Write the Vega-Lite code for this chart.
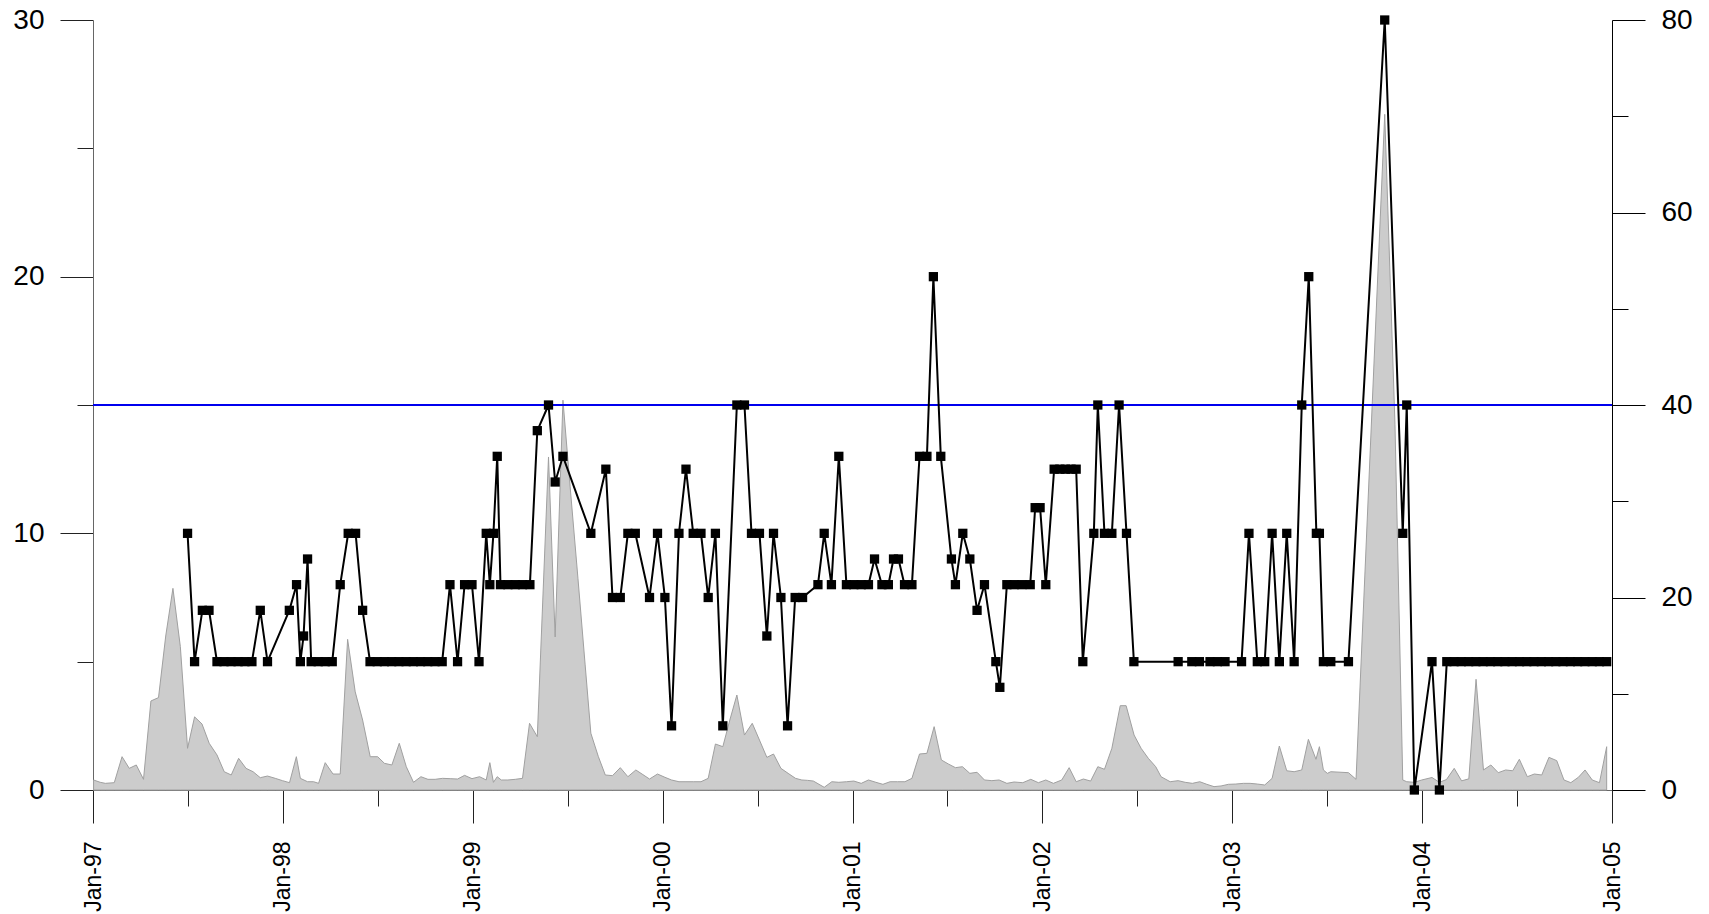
{
  "$schema": "https://vega.github.io/schema/vega-lite/v6.json",
  "width": 1519,
  "height": 770,
  "autosize": "none",
  "padding": {"left": 93, "top": 20, "right": 97, "bottom": 124},
  "config": {
    "view": {"stroke": null},
    "font": "Liberation Sans",
    "axis": {"grid": false, "labelColor": "#000000", "tickColor": "#000000", "labelFont": "Liberation Sans"}
  },
  "datasets": {
    "flow": [
      {"year": 1997.003, "value": 1.04}, {"year": 1997.038, "value": 0.8}, {"year": 1997.065, "value": 0.69}, {"year": 1997.112, "value": 0.76},
      {"year": 1997.153, "value": 3.46}, {"year": 1997.191, "value": 2.25}, {"year": 1997.228, "value": 2.6}, {"year": 1997.266, "value": 1.11},
      {"year": 1997.305, "value": 9.25}, {"year": 1997.345, "value": 9.6}, {"year": 1997.383, "value": 16}, {"year": 1997.421, "value": 20.95},
      {"year": 1997.46, "value": 14.9}, {"year": 1997.498, "value": 4.33}, {"year": 1997.535, "value": 7.6}, {"year": 1997.574, "value": 6.86},
      {"year": 1997.612, "value": 4.85}, {"year": 1997.653, "value": 3.64}, {"year": 1997.691, "value": 1.9}, {"year": 1997.728, "value": 1.56},
      {"year": 1997.767, "value": 3.29}, {"year": 1997.806, "value": 2.25}, {"year": 1997.843, "value": 1.9}, {"year": 1997.881, "value": 1.28},
      {"year": 1997.919, "value": 1.45}, {"year": 1997.96, "value": 1.21}, {"year": 1997.998, "value": 0.97}, {"year": 1998.035, "value": 0.76},
      {"year": 1998.071, "value": 3.46}, {"year": 1998.092, "value": 1.21}, {"year": 1998.13, "value": 0.86}, {"year": 1998.162, "value": 0.86},
      {"year": 1998.188, "value": 0.69}, {"year": 1998.223, "value": 2.84}, {"year": 1998.264, "value": 1.66}, {"year": 1998.302, "value": 1.66},
      {"year": 1998.341, "value": 15.65}, {"year": 1998.381, "value": 10.2}, {"year": 1998.42, "value": 7.27}, {"year": 1998.46, "value": 3.46},
      {"year": 1998.499, "value": 3.46}, {"year": 1998.535, "value": 2.77}, {"year": 1998.574, "value": 2.6}, {"year": 1998.613, "value": 4.85},
      {"year": 1998.65, "value": 2.42}, {"year": 1998.688, "value": 0.8}, {"year": 1998.727, "value": 1.38}, {"year": 1998.764, "value": 1.11},
      {"year": 1998.802, "value": 1.11}, {"year": 1998.841, "value": 1.21}, {"year": 1998.881, "value": 1.18}, {"year": 1998.92, "value": 1.14},
      {"year": 1998.957, "value": 1.52}, {"year": 1998.996, "value": 1.18}, {"year": 1999.036, "value": 1.38}, {"year": 1999.071, "value": 1.04},
      {"year": 1999.09, "value": 2.84}, {"year": 1999.109, "value": 0.8}, {"year": 1999.129, "value": 1.38}, {"year": 1999.15, "value": 1.04},
      {"year": 1999.185, "value": 1.04}, {"year": 1999.224, "value": 1.11}, {"year": 1999.262, "value": 1.21}, {"year": 1999.299, "value": 6.93},
      {"year": 1999.34, "value": 5.54}, {"year": 1999.399, "value": 34.6}, {"year": 1999.434, "value": 15.9}, {"year": 1999.475, "value": 40.5},
      {"year": 1999.513, "value": 31.5}, {"year": 1999.554, "value": 22}, {"year": 1999.592, "value": 13}, {"year": 1999.622, "value": 5.9},
      {"year": 1999.661, "value": 3.5}, {"year": 1999.698, "value": 1.56}, {"year": 1999.736, "value": 1.49}, {"year": 1999.777, "value": 2.32},
      {"year": 1999.817, "value": 1.38}, {"year": 1999.859, "value": 2.08}, {"year": 1999.896, "value": 1.6}, {"year": 1999.931, "value": 1.14},
      {"year": 1999.973, "value": 1.66}, {"year": 2000.012, "value": 1.32}, {"year": 2000.047, "value": 1.04}, {"year": 2000.086, "value": 0.86},
      {"year": 2000.123, "value": 0.86}, {"year": 2000.161, "value": 0.86}, {"year": 2000.202, "value": 0.86}, {"year": 2000.24, "value": 1.21},
      {"year": 2000.278, "value": 4.78}, {"year": 2000.317, "value": 4.5}, {"year": 2000.354, "value": 7.27}, {"year": 2000.391, "value": 9.87},
      {"year": 2000.431, "value": 5.71}, {"year": 2000.472, "value": 6.93}, {"year": 2000.51, "value": 5.19}, {"year": 2000.549, "value": 3.39},
      {"year": 2000.584, "value": 3.74}, {"year": 2000.623, "value": 2.25}, {"year": 2000.661, "value": 1.73}, {"year": 2000.7, "value": 1.21},
      {"year": 2000.733, "value": 1.04}, {"year": 2000.764, "value": 1.0}, {"year": 2000.794, "value": 0.93}, {"year": 2000.851, "value": 0.28},
      {"year": 2000.891, "value": 0.86}, {"year": 2000.928, "value": 0.8}, {"year": 2000.968, "value": 0.86}, {"year": 2001.007, "value": 0.93},
      {"year": 2001.046, "value": 0.69}, {"year": 2001.084, "value": 1.04}, {"year": 2001.123, "value": 0.8}, {"year": 2001.16, "value": 0.59},
      {"year": 2001.198, "value": 0.86}, {"year": 2001.237, "value": 0.86}, {"year": 2001.276, "value": 0.86}, {"year": 2001.313, "value": 1.21},
      {"year": 2001.353, "value": 3.74}, {"year": 2001.392, "value": 3.81}, {"year": 2001.43, "value": 6.58}, {"year": 2001.468, "value": 3.12},
      {"year": 2001.505, "value": 2.7}, {"year": 2001.542, "value": 2.32}, {"year": 2001.579, "value": 2.42}, {"year": 2001.618, "value": 1.73},
      {"year": 2001.656, "value": 1.84}, {"year": 2001.695, "value": 1.04}, {"year": 2001.734, "value": 0.97}, {"year": 2001.772, "value": 1.04},
      {"year": 2001.813, "value": 0.69}, {"year": 2001.851, "value": 0.83}, {"year": 2001.897, "value": 0.76}, {"year": 2001.939, "value": 1.11},
      {"year": 2001.979, "value": 0.76}, {"year": 2002.018, "value": 1.04}, {"year": 2002.058, "value": 0.69}, {"year": 2002.102, "value": 1.04},
      {"year": 2002.141, "value": 2.32}, {"year": 2002.178, "value": 0.86}, {"year": 2002.216, "value": 1.14}, {"year": 2002.254, "value": 0.93},
      {"year": 2002.292, "value": 2.42}, {"year": 2002.327, "value": 2.15}, {"year": 2002.366, "value": 4.33}, {"year": 2002.41, "value": 8.76},
      {"year": 2002.441, "value": 8.76}, {"year": 2002.483, "value": 5.71}, {"year": 2002.52, "value": 4.33}, {"year": 2002.558, "value": 3.29},
      {"year": 2002.597, "value": 2.42}, {"year": 2002.625, "value": 1.38}, {"year": 2002.673, "value": 0.86}, {"year": 2002.715, "value": 0.97},
      {"year": 2002.752, "value": 0.8}, {"year": 2002.79, "value": 0.69}, {"year": 2002.829, "value": 0.86}, {"year": 2002.866, "value": 0.59},
      {"year": 2002.904, "value": 0.35}, {"year": 2002.941, "value": 0.42}, {"year": 2002.98, "value": 0.59}, {"year": 2003.019, "value": 0.62},
      {"year": 2003.059, "value": 0.69}, {"year": 2003.094, "value": 0.69}, {"year": 2003.132, "value": 0.62}, {"year": 2003.171, "value": 0.52},
      {"year": 2003.21, "value": 1.21}, {"year": 2003.248, "value": 4.57}, {"year": 2003.287, "value": 2.0}, {"year": 2003.326, "value": 1.9},
      {"year": 2003.366, "value": 2.08}, {"year": 2003.401, "value": 5.26}, {"year": 2003.441, "value": 3.19}, {"year": 2003.459, "value": 4.5},
      {"year": 2003.48, "value": 2.08}, {"year": 2003.501, "value": 1.73}, {"year": 2003.519, "value": 1.9}, {"year": 2003.612, "value": 1.8},
      {"year": 2003.652, "value": 1.11}, {"year": 2003.803, "value": 70.2}, {"year": 2003.857, "value": 38}, {"year": 2003.898, "value": 1.04},
      {"year": 2003.919, "value": 0.86}, {"year": 2003.959, "value": 0.8}, {"year": 2003.998, "value": 1.04}, {"year": 2004.052, "value": 1.3},
      {"year": 2004.091, "value": 0.8}, {"year": 2004.128, "value": 1.08}, {"year": 2004.169, "value": 2.25}, {"year": 2004.208, "value": 0.95},
      {"year": 2004.246, "value": 1.16}, {"year": 2004.284, "value": 11.5}, {"year": 2004.323, "value": 2.08}, {"year": 2004.362, "value": 2.6},
      {"year": 2004.401, "value": 1.8}, {"year": 2004.44, "value": 2.08}, {"year": 2004.477, "value": 2.0}, {"year": 2004.512, "value": 3.19},
      {"year": 2004.554, "value": 1.38}, {"year": 2004.591, "value": 1.66}, {"year": 2004.63, "value": 1.56}, {"year": 2004.668, "value": 3.39},
      {"year": 2004.709, "value": 3.05}, {"year": 2004.747, "value": 1.04}, {"year": 2004.783, "value": 0.76}, {"year": 2004.823, "value": 1.32},
      {"year": 2004.858, "value": 2.08}, {"year": 2004.896, "value": 1.04}, {"year": 2004.934, "value": 0.76}, {"year": 2004.972, "value": 4.5}
    ],
    "conc": [
      {"year": 1997.498, "value": 10}, {"year": 1997.535, "value": 5}, {"year": 1997.576, "value": 7}, {"year": 1997.611, "value": 7},
      {"year": 1997.653, "value": 5}, {"year": 1997.69, "value": 5}, {"year": 1997.727, "value": 5}, {"year": 1997.764, "value": 5},
      {"year": 1997.8, "value": 5}, {"year": 1997.837, "value": 5}, {"year": 1997.881, "value": 7}, {"year": 1997.919, "value": 5},
      {"year": 1998.034, "value": 7}, {"year": 1998.072, "value": 8}, {"year": 1998.092, "value": 5}, {"year": 1998.109, "value": 6},
      {"year": 1998.13, "value": 9}, {"year": 1998.149, "value": 5}, {"year": 1998.186, "value": 5}, {"year": 1998.223, "value": 5},
      {"year": 1998.26, "value": 5}, {"year": 1998.302, "value": 8}, {"year": 1998.344, "value": 10}, {"year": 1998.383, "value": 10},
      {"year": 1998.42, "value": 7}, {"year": 1998.459, "value": 5}, {"year": 1998.497, "value": 5}, {"year": 1998.535, "value": 5},
      {"year": 1998.573, "value": 5}, {"year": 1998.611, "value": 5}, {"year": 1998.649, "value": 5}, {"year": 1998.687, "value": 5},
      {"year": 1998.725, "value": 5}, {"year": 1998.763, "value": 5}, {"year": 1998.801, "value": 5}, {"year": 1998.839, "value": 5},
      {"year": 1998.88, "value": 8}, {"year": 1998.92, "value": 5}, {"year": 1998.957, "value": 8}, {"year": 1998.996, "value": 8},
      {"year": 1999.033, "value": 5}, {"year": 1999.071, "value": 10}, {"year": 1999.09, "value": 8}, {"year": 1999.109, "value": 10},
      {"year": 1999.129, "value": 13}, {"year": 1999.146, "value": 8}, {"year": 1999.185, "value": 8}, {"year": 1999.224, "value": 8},
      {"year": 1999.262, "value": 8}, {"year": 1999.301, "value": 8}, {"year": 1999.34, "value": 14}, {"year": 1999.399, "value": 15},
      {"year": 1999.434, "value": 12}, {"year": 1999.475, "value": 13}, {"year": 1999.622, "value": 10}, {"year": 1999.701, "value": 12.5},
      {"year": 1999.736, "value": 7.5}, {"year": 1999.777, "value": 7.5}, {"year": 1999.817, "value": 10}, {"year": 1999.856, "value": 10},
      {"year": 1999.931, "value": 7.5}, {"year": 1999.973, "value": 10}, {"year": 2000.012, "value": 7.5}, {"year": 2000.047, "value": 2.5},
      {"year": 2000.086, "value": 10}, {"year": 2000.123, "value": 12.5}, {"year": 2000.161, "value": 10}, {"year": 2000.202, "value": 10},
      {"year": 2000.24, "value": 7.5}, {"year": 2000.278, "value": 10}, {"year": 2000.317, "value": 2.5}, {"year": 2000.391, "value": 15},
      {"year": 2000.431, "value": 15}, {"year": 2000.468, "value": 10}, {"year": 2000.51, "value": 10}, {"year": 2000.549, "value": 6},
      {"year": 2000.584, "value": 10}, {"year": 2000.623, "value": 7.5}, {"year": 2000.658, "value": 2.5}, {"year": 2000.698, "value": 7.5},
      {"year": 2000.737, "value": 7.5}, {"year": 2000.818, "value": 8}, {"year": 2000.851, "value": 10}, {"year": 2000.889, "value": 8},
      {"year": 2000.928, "value": 13}, {"year": 2000.968, "value": 8}, {"year": 2001.007, "value": 8}, {"year": 2001.046, "value": 8},
      {"year": 2001.084, "value": 8}, {"year": 2001.116, "value": 9}, {"year": 2001.155, "value": 8}, {"year": 2001.189, "value": 8},
      {"year": 2001.216, "value": 9}, {"year": 2001.242, "value": 9}, {"year": 2001.274, "value": 8}, {"year": 2001.313, "value": 8},
      {"year": 2001.353, "value": 13}, {"year": 2001.392, "value": 13}, {"year": 2001.426, "value": 20}, {"year": 2001.465, "value": 13},
      {"year": 2001.521, "value": 9}, {"year": 2001.542, "value": 8}, {"year": 2001.581, "value": 10}, {"year": 2001.618, "value": 9},
      {"year": 2001.656, "value": 7}, {"year": 2001.695, "value": 8}, {"year": 2001.755, "value": 5}, {"year": 2001.776, "value": 4},
      {"year": 2001.813, "value": 8}, {"year": 2001.851, "value": 8}, {"year": 2001.892, "value": 8}, {"year": 2001.936, "value": 8},
      {"year": 2001.962, "value": 11}, {"year": 2001.988, "value": 11}, {"year": 2002.018, "value": 8}, {"year": 2002.062, "value": 12.5},
      {"year": 2002.092, "value": 12.5}, {"year": 2002.121, "value": 12.5}, {"year": 2002.151, "value": 12.5}, {"year": 2002.178, "value": 12.5},
      {"year": 2002.213, "value": 5}, {"year": 2002.271, "value": 10}, {"year": 2002.292, "value": 15}, {"year": 2002.327, "value": 10},
      {"year": 2002.366, "value": 10}, {"year": 2002.404, "value": 15}, {"year": 2002.443, "value": 10}, {"year": 2002.482, "value": 5},
      {"year": 2002.715, "value": 5}, {"year": 2002.787, "value": 5}, {"year": 2002.827, "value": 5}, {"year": 2002.883, "value": 5},
      {"year": 2002.922, "value": 5}, {"year": 2002.962, "value": 5}, {"year": 2003.049, "value": 5}, {"year": 2003.088, "value": 10},
      {"year": 2003.132, "value": 5}, {"year": 2003.171, "value": 5}, {"year": 2003.21, "value": 10}, {"year": 2003.248, "value": 5},
      {"year": 2003.287, "value": 10}, {"year": 2003.326, "value": 5}, {"year": 2003.366, "value": 15}, {"year": 2003.403, "value": 20},
      {"year": 2003.443, "value": 10}, {"year": 2003.459, "value": 10}, {"year": 2003.48, "value": 5}, {"year": 2003.519, "value": 5},
      {"year": 2003.612, "value": 5}, {"year": 2003.803, "value": 30}, {"year": 2003.898, "value": 10}, {"year": 2003.919, "value": 15},
      {"year": 2003.959, "value": 0}, {"year": 2004.052, "value": 5}, {"year": 2004.091, "value": 0}, {"year": 2004.13, "value": 5},
      {"year": 2004.168, "value": 5}, {"year": 2004.206, "value": 5}, {"year": 2004.245, "value": 5}, {"year": 2004.283, "value": 5},
      {"year": 2004.321, "value": 5}, {"year": 2004.36, "value": 5}, {"year": 2004.398, "value": 5}, {"year": 2004.436, "value": 5},
      {"year": 2004.474, "value": 5}, {"year": 2004.513, "value": 5}, {"year": 2004.551, "value": 5}, {"year": 2004.589, "value": 5},
      {"year": 2004.628, "value": 5}, {"year": 2004.666, "value": 5}, {"year": 2004.704, "value": 5}, {"year": 2004.742, "value": 5},
      {"year": 2004.781, "value": 5}, {"year": 2004.819, "value": 5}, {"year": 2004.857, "value": 5}, {"year": 2004.896, "value": 5},
      {"year": 2004.934, "value": 5}, {"year": 2004.972, "value": 5}
    ]
  },
  "layer": [
    {
      "data": {"name": "flow"},
      "mark": {"type": "area", "fill": "#cccccc", "stroke": "#a0a0a0", "strokeWidth": 1, "interpolate": "linear"},
      "encoding": {
        "x": {
          "field": "year", "type": "quantitative",
          "scale": {"domain": [1997, 2005], "nice": false, "zero": false},
          "axis": {
            "title": null,
            "values": [1997, 1997.5, 1998, 1998.5, 1999, 1999.5, 2000, 2000.5, 2001, 2001.5, 2002, 2002.5, 2003, 2003.5, 2004, 2004.5, 2005],
            "labelExpr": "datum.value % 1 === 0 ? 'Jan-' + substring(toString(datum.value), 2, 4) : ''",
            "labelAngle": -90,
            "labelFontSize": 23,
            "labelPadding": 18,
            "labelOverlap": false,
            "labelFlush": false,
            "labelBound": false,
            "tickSize": {"condition": {"test": "datum.value % 1 === 0", "value": 33}, "value": 16},
            "domainColor": "#666666",
            "tickColor": "#222222"
          }
        },
        "y": {
          "field": "value", "type": "quantitative",
          "scale": {"domain": [0, 80], "nice": false},
          "axis": {
            "title": null,
            "orient": "right",
            "values": [0, 10, 20, 30, 40, 50, 60, 70, 80],
            "labelExpr": "datum.value % 20 === 0 ? datum.label : ''",
            "labelFontSize": 28,
            "labelPadding": 16,
            "labelOverlap": false,
            "labelFlush": false,
            "tickSize": {"condition": {"test": "datum.value % 20 === 0", "value": 33}, "value": 16},
            "domainColor": "#000000",
            "tickColor": "#000000"
          }
        }
      }
    },
    {
      "data": {"name": "conc"},
      "layer": [
        {
          "mark": {"type": "rule", "color": "#0000ee", "strokeWidth": 1.5},
          "encoding": {"y": {"datum": 15, "type": "quantitative", "axis": {"title": null}}}
        },
        {
          "mark": {"type": "line", "color": "#000000", "strokeWidth": 2},
          "encoding": {
            "x": {"field": "year", "type": "quantitative", "axis": {"title": null}},
            "y": {
              "field": "value", "type": "quantitative",
              "scale": {"domain": [0, 30], "nice": false},
              "axis": {
                "title": null,
                "orient": "left",
                "values": [0, 5, 10, 15, 20, 25, 30],
                "labelExpr": "datum.value % 10 === 0 ? datum.label : ''",
                "labelFontSize": 28,
                "labelPadding": 16,
                "labelOverlap": false,
                "labelFlush": false,
                "tickSize": {"condition": {"test": "datum.value % 10 === 0", "value": 33}, "value": 16},
                "domainColor": "#666666",
                "tickColor": "#222222"
              }
            }
          }
        },
        {
          "mark": {"type": "square", "color": "#000000", "size": 86, "opacity": 1},
          "encoding": {
            "x": {"field": "year", "type": "quantitative", "axis": {"title": null}},
            "y": {"field": "value", "type": "quantitative", "axis": {"title": null}}
          }
        }
      ]
    }
  ],
  "resolve": {"scale": {"y": "independent"}}
}
